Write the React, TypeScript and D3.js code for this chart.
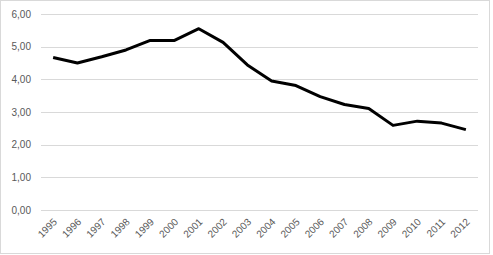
import React from "react";
import * as d3 from "d3";

const years = ["1995","1996","1997","1998","1999","2000","2001","2002","2003","2004","2005","2006","2007","2008","2009","2010","2011","2012"];
const values = [4.67,4.50,4.69,4.90,5.19,5.19,5.55,5.13,4.44,3.95,3.81,3.47,3.23,3.11,2.59,2.72,2.66,2.46];
const yTicks = [0,1,2,3,4,5,6];

const W = 493, H = 255;
const plot = { left: 41, right: 478, top: 14, bottom: 210 };

export default function App() {
  const x = d3.scaleBand<string>().domain(years).range([plot.left, plot.right]);
  const y = d3.scaleLinear().domain([0, 6]).range([plot.bottom, plot.top]);
  const line = d3.line<number>()
    .x((_, i) => (x(years[i]) as number) + x.bandwidth() / 2)
    .y((d) => y(d));
  const fmt = (v: number) => v.toFixed(2).replace(".", ",");
  return (
    <svg width={W} height={H} style={{ position: "absolute", left: 0, top: 0, background: "#fff" }}
      fontFamily="'Liberation Sans', Arial, sans-serif">
      <rect x={0.5} y={0.5} width={489} height={253} fill="#fff" stroke="#d9d9d9" />
      {yTicks.map((t) => (
        <g key={t}>
          <line x1={plot.left} x2={plot.right} y1={Math.round(y(t)) + 0.5} y2={Math.round(y(t)) + 0.5} stroke="#d9d9d9" strokeWidth={1} />
          <text x={31} y={y(t)} dy="0.35em" textAnchor="end" fontSize={10} fill="#595959">{fmt(t)}</text>
        </g>
      ))}
      {years.map((yr) => {
        const cx = (x(yr) as number) + x.bandwidth() / 2;
        return (
          <text key={yr} transform={`translate(${cx + 2},${plot.bottom + 10}) rotate(-45)`} textAnchor="end" dy="0.35em" fontSize={10} fill="#595959">{yr}</text>
        );
      })}
      <path d={line(values) as string} fill="none" stroke="#000" strokeWidth={3} strokeLinejoin="round" strokeLinecap="butt" />
    </svg>
  );
}
